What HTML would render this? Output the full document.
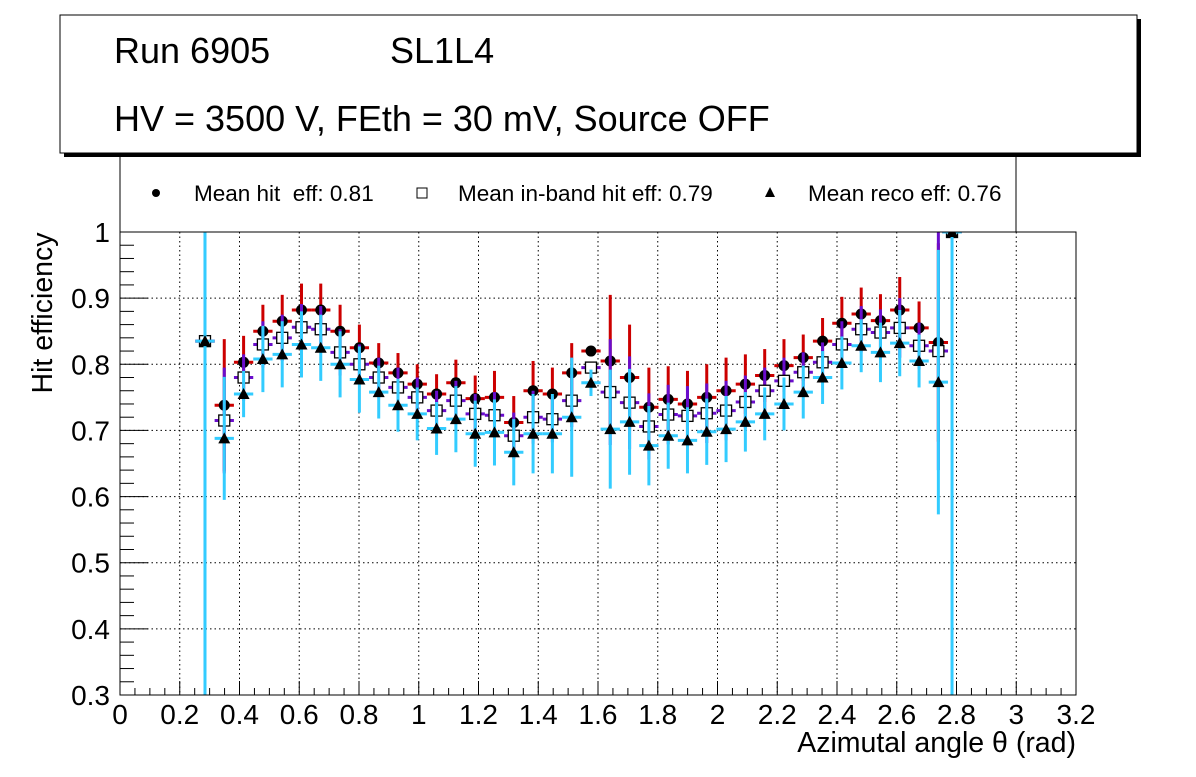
<!DOCTYPE html>
<html><head><meta charset="utf-8"><style>
body{margin:0;background:#fff;width:1196px;height:772px;overflow:hidden;font-family:"Liberation Sans",sans-serif}
</style></head><body>
<svg width="1196" height="772" viewBox="0 0 1196 772" font-family="Liberation Sans, sans-serif">
<g id="grid"></g>
<g id="axes"></g>
<g id="marks"></g>
<rect x="120" y="232" width="956" height="463" fill="none" stroke="#000" stroke-width="1"/>
<g>
<rect x="120" y="150" width="896" height="82" fill="#fff" stroke="#000" stroke-width="1"/>
<circle cx="156" cy="193" r="4" fill="#000"/>
<text x="194" y="201" font-size="22.5" xml:space="preserve">Mean hit  eff: 0.81</text>
<rect x="417" y="188" width="10" height="10" fill="#fff" stroke="#000"/>
<text x="458" y="201" font-size="22.5">Mean in-band hit eff: 0.79</text>
<polygon points="770,187 775,197 765,197" fill="#000"/>
<text x="808" y="201" font-size="22.5">Mean reco eff: 0.76</text>
</g>
<g>
<rect x="64" y="19" width="1077" height="138" fill="#000"/>
<rect x="60" y="15" width="1077" height="138" fill="#fff" stroke="#000" stroke-width="1"/>
<text x="114" y="63" font-size="36">Run 6905</text>
<text x="390" y="63" font-size="36">SL1L4</text>
<text x="114" y="131" font-size="36">HV = 3500 V, FEth = 30 mV, Source OFF</text>
</g>
<text transform="translate(52,313) rotate(-90)" text-anchor="middle" font-size="28.5">Hit efficiency</text>
<text x="1076" y="752" text-anchor="end" font-size="28.5">Azimutal angle θ (rad)</text>
</svg>
<script>
const xVals=[0.2845,0.349,0.4137,0.4783,0.543,0.6075,0.672,0.7367,0.8013,0.866,0.9305,0.995,1.0597,1.1243,1.189,1.2535,1.318,1.3827,1.4473,1.512,1.5765,1.641,1.7057,1.7703,1.835,1.8995,1.964,2.0287,2.0933,2.158,2.2225,2.287,2.3517,2.4163,2.481,2.5455,2.61,2.6747,2.7393,2.785];
const hitVals=[0.835,0.738,0.803,0.85,0.865,0.882,0.882,0.85,0.825,0.802,0.787,0.77,0.755,0.772,0.748,0.75,0.712,0.76,0.755,0.787,0.82,0.805,0.78,0.735,0.747,0.74,0.75,0.76,0.77,0.783,0.798,0.81,0.835,0.862,0.876,0.866,0.882,0.855,0.833,1.0];
const inbandVals=[0.835,0.715,0.78,0.83,0.84,0.856,0.853,0.818,0.80,0.78,0.765,0.75,0.73,0.745,0.725,0.723,0.692,0.72,0.717,0.745,0.795,0.758,0.742,0.706,0.724,0.722,0.726,0.73,0.743,0.76,0.775,0.788,0.803,0.83,0.853,0.848,0.855,0.828,0.82,1.0];
const recoVals=[0.835,0.688,0.755,0.808,0.815,0.83,0.825,0.8,0.777,0.758,0.738,0.725,0.703,0.717,0.695,0.697,0.667,0.695,0.695,0.72,0.772,0.702,0.713,0.677,0.692,0.685,0.698,0.702,0.713,0.725,0.74,0.758,0.78,0.802,0.828,0.818,0.832,0.805,0.773,1.0];
const hitErr=[0.5,0.1,0.04,0.04,0.04,0.04,0.04,0.04,0.035,0.03,0.03,0.03,0.03,0.035,0.035,0.04,0.04,0.045,0.04,0.045,0.005,0.1,0.08,0.06,0.05,0.05,0.05,0.05,0.045,0.04,0.04,0.035,0.035,0.04,0.04,0.04,0.05,0.04,0.15,0];
const inbandErr=[0.5,0.08,0.035,0.035,0.035,0.035,0.035,0.035,0.03,0.03,0.03,0.03,0.03,0.03,0.03,0.035,0.035,0.04,0.035,0.04,0.005,0.08,0.07,0.05,0.045,0.045,0.045,0.045,0.04,0.035,0.035,0.03,0.03,0.035,0.035,0.035,0.045,0.035,0.18,0];
const recoErr=[0.7,0.093,0.035,0.05,0.05,0.05,0.05,0.05,0.05,0.04,0.04,0.04,0.04,0.05,0.05,0.05,0.05,0.06,0.06,0.09,0.02,0.09,0.08,0.06,0.05,0.05,0.05,0.05,0.045,0.04,0.04,0.04,0.04,0.04,0.04,0.045,0.05,0.04,0.2,0.7];
const xTicks=["0","0.2","0.4","0.6","0.8","1","1.2","1.4","1.6","1.8","2","2.2","2.4","2.6","2.8","3","3.2"];
const yTicks=["0.3","0.4","0.5","0.6","0.7","0.8","0.9","1"];
const NS="http://www.w3.org/2000/svg";
const X0=120,X1=1076,Y0=695,Y1=232;
const sx=v=>X0+(v-0)/3.2*(X1-X0);
const sy=v=>{v=Math.max(0.3,Math.min(1,v));return Y0-(v-0.3)/0.7*(Y0-Y1);};
function mk(p,t,a){const e=document.createElementNS(NS,t);for(const k in a)e.setAttribute(k,a[k]);p.appendChild(e);return e;}
const grid=document.getElementById('grid'),axes=document.getElementById('axes'),marks=document.getElementById('marks');
xTicks.forEach(t=>{const x=sx(parseFloat(t));
 if(x>X0+1&&x<X1-1){const g=mk(grid,'line',{x1:x,x2:x,y1:Y1,y2:Y0,stroke:'#000','stroke-dasharray':'1.5,3','stroke-width':1});
 
 }
 mk(axes,'line',{x1:x,x2:x,y1:Y0,y2:Y0-14,stroke:'#000'});
 const tx=mk(axes,'text',{x:x,y:724,'text-anchor':'middle','font-size':28});tx.textContent=t;
 
 
});
for(let i=0;i<64;i++){const x=sx(i*0.05);if(i%4)mk(axes,'line',{x1:x,x2:x,y1:Y0,y2:Y0-7,stroke:'#000'});}
yTicks.forEach(t=>{const y=sy(parseFloat(t));
 if(y>Y1+1&&y<Y0-1){const g=mk(grid,'line',{x1:X0,x2:X1,y1:y,y2:y,stroke:'#000','stroke-dasharray':'1.5,3','stroke-width':1});
 
 }
 mk(axes,'line',{x1:X0,x2:X0+28,y1:y,y2:y,stroke:'#000'});
 const tx=mk(axes,'text',{x:110,y:y+10,'text-anchor':'end','font-size':28});tx.textContent=t;
 
 
});
for(let i=0;i<36;i++){const y=sy(0.3+i*0.02);if(i%5)mk(axes,'line',{x1:X0,x2:X0+14,y1:y,y2:y,stroke:'#000'});}
const hw=0.0323;
function series(vals,errs,col,kind,name){
 vals.forEach((v,i)=>{const x=sx(xVals[i]);
  const g=mk(marks,'g',{});
  
  
  mk(g,'line',{x1:x,x2:x,y1:sy(v-errs[i]),y2:sy(v+errs[i]),stroke:col,'stroke-width':3});
  mk(g,'line',{x1:sx(xVals[i]-hw),x2:sx(xVals[i]+hw),y1:sy(v),y2:sy(v),stroke:col,'stroke-width':3});
  const y=sy(v);
  if(kind==='c')mk(g,'circle',{cx:x,cy:y,r:5.5,fill:'#000'});
  else if(kind==='s')mk(g,'rect',{x:x-5.5,y:y-5.5,width:11,height:11,fill:'#fff',stroke:'#000','stroke-width':1.3});
  else mk(g,'polygon',{points:`${x},${y-6} ${x+6},${y+5} ${x-6},${y+5}`,fill:'#000'});
 });
}
series(hitVals,hitErr,'#cc0000','c','hit');
series(inbandVals,inbandErr,'#6a0dcc','s','inband');
series(recoVals,recoErr,'#33ccff','t','reco');
</script>
</body></html>
